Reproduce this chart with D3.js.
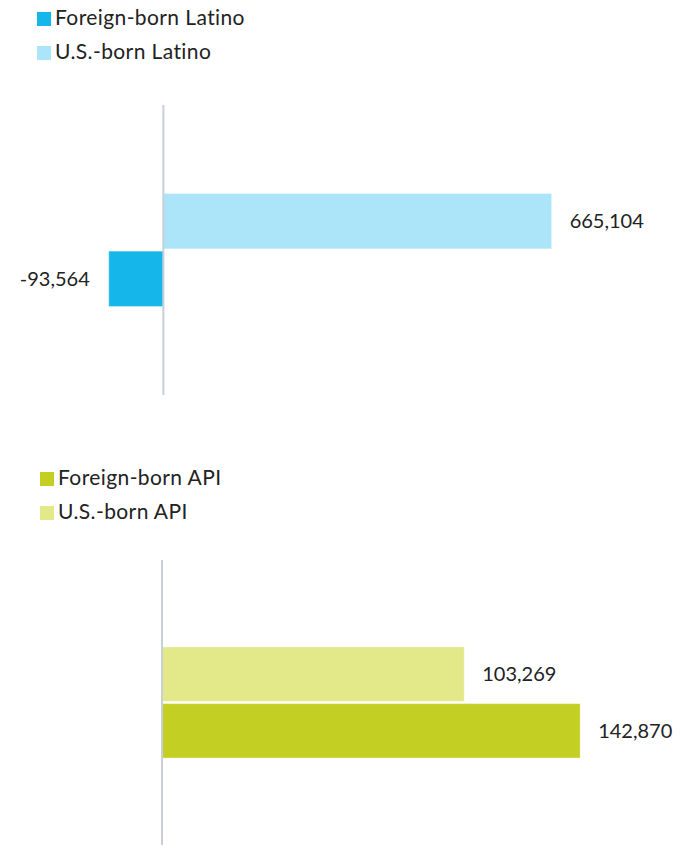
<!DOCTYPE html>
<html>
<head>
<meta charset="utf-8">
<script src="https://cdn.jsdelivr.net/npm/d3@7"></script>
<style>
  html, body { margin: 0; padding: 0; background: #fff; }
  svg { display: block; }
  text { font-family: Lato, "Open Sans", sans-serif; fill: #222; }
</style>
</head>
<body>
<div id="chart"></div>
<script>
// ---- Data ----
const latinoSeries = ["U.S.-born Latino", "Foreign-born Latino"];
const latinoValues = [665104, -93564];
const latinoLegend = ["Foreign-born Latino", "U.S.-born Latino"];
const latinoColors = {"Foreign-born Latino": "#15b6ea", "U.S.-born Latino": "#ace5f9"};

const apiSeries = ["U.S.-born API", "Foreign-born API"];
const apiValues = [103269, 142870];
const apiLegend = ["Foreign-born API", "U.S.-born API"];
const apiColors = {"Foreign-born API": "#c3cf23", "U.S.-born API": "#e3e889"};

const W = 692, H = 845;
const svg = d3.select("#chart").append("svg").attr("width", W).attr("height", H);
const fmt = d3.formatLocale({decimal: ".", thousands: ",", grouping: [3], currency: ["", ""], minus: "-"}).format(",");

function panel(opts) {
  const g = svg.append("g");
  // legend
  const leg = g.append("g");
  opts.legend.forEach((name, i) => {
    const yy = opts.legendTop + i * opts.legendStep;
    leg.append("rect").attr("x", opts.legendX).attr("y", yy).attr("width", 14).attr("height", 14)
      .attr("fill", opts.colors[name]);
    leg.append("text").attr("x", opts.legendX + 18).attr("y", yy + 13)
      .attr("font-size", 21).attr("letter-spacing", 0.4).text(name);
  });

  const x = d3.scaleLinear().domain(opts.domain).range(opts.xRange);
  const outer = d3.scaleBand().domain(["all"]).range(opts.yRange).paddingInner(0).paddingOuter(0.783);
  const inner = d3.scaleBand().domain(opts.series).range([0, outer.bandwidth()]).paddingInner(0.04);

  const data = opts.series.map((s, i) => ({s, v: opts.values[i]}));

  g.selectAll("rect.bar").data(data).join("rect").attr("class", "bar")
    .attr("x", d => x(Math.min(0, d.v)))
    .attr("width", d => Math.abs(x(d.v) - x(0)))
    .attr("y", d => outer("all") + inner(d.s))
    .attr("height", inner.bandwidth())
    .attr("fill", d => opts.colors[d.s])
    .attr("stroke", "#ffffff").attr("stroke-opacity", 0.35).attr("stroke-width", 1);

  g.selectAll("text.val").data(data).join("text").attr("class", "val")
    .attr("x", d => d.v >= 0 ? x(d.v) + 18 : x(d.v) - 19)
    .attr("y", d => outer("all") + inner(d.s) + inner.bandwidth() / 2)
    .attr("dy", "0.35em")
    .attr("text-anchor", d => d.v >= 0 ? "start" : "end")
    .attr("font-size", 20)
    .text(d => fmt(d.v));

  // zero axis line
  g.append("line").attr("x1", x(0)).attr("x2", x(0))
    .attr("y1", opts.yRange[0]).attr("y2", opts.yRange[1])
    .attr("stroke", "#c7cfd8").attr("stroke-width", 2);
}

panel({
  legend: latinoLegend, colors: latinoColors, series: latinoSeries, values: latinoValues,
  legendX: 37, legendTop: 12, legendStep: 34,
  domain: [-100000, 700000], xRange: [105, 572], yRange: [105, 395]
});
panel({
  legend: apiLegend, colors: apiColors, series: apiSeries, values: apiValues,
  legendX: 40, legendTop: 472, legendStep: 34,
  domain: [0, 150000], xRange: [162, 601], yRange: [560, 845]
});
</script>
</body>
</html>
